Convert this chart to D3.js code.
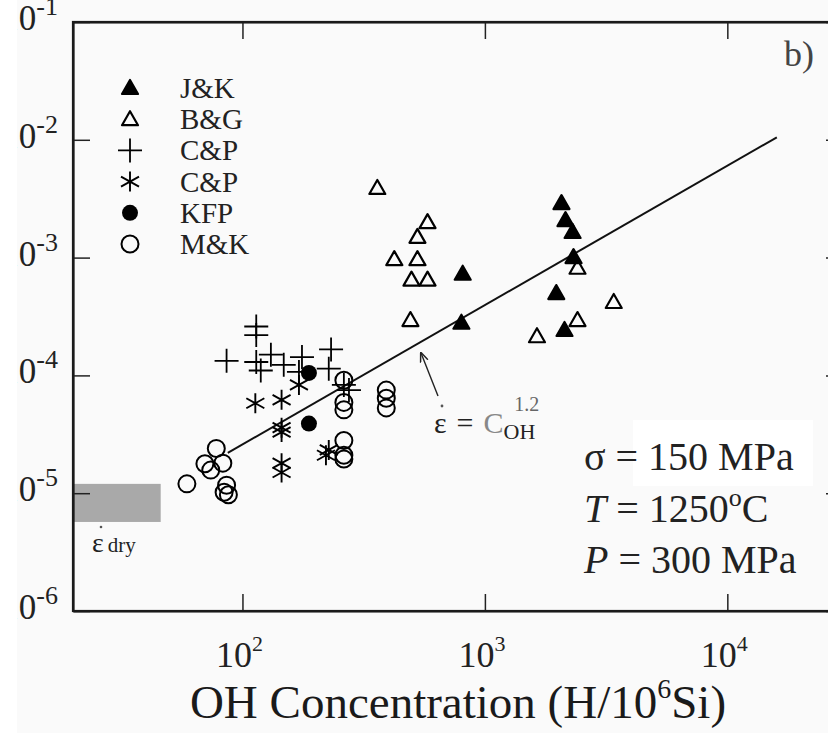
<!DOCTYPE html>
<html>
<head>
<meta charset="utf-8">
<title>Strain rate vs OH concentration</title>
<script src="https://d3js.org/d3.v7.min.js"></script>
<style>
  body { margin: 0; background: #fafafa; }
  svg { font-family: "Liberation Serif", "DejaVu Serif", serif; }
</style>
</head>
<body>
<svg width="828" height="733"></svg>
<script>
// values: x = OH (H/10^6 Si), y = strain rate
const jk = [[2070, 2.9e-3], [2150, 2.08e-3], [2300, 1.65e-3], [2320, 1.01e-3], [1970, 5.0e-4], [2130, 2.43e-4], [810, 7.3e-4], [800, 2.8e-4]];
const bg = [[360, 3.9e-3], [580, 2.0e-3], [527, 1.5e-3], [423, 9.7e-4], [527, 9.7e-4], [498, 6.5e-4], [580, 6.5e-4], [493, 2.95e-4], [2410, 8.2e-4], [3400, 4.2e-4], [2410, 2.95e-4], [1640, 2.15e-4]];
const cpPlus = [[114, 2.6e-4], [114, 2.2e-4], [86, 1.33e-4], [114, 1.3e-4], [119, 1.1e-4], [131, 1.5e-4], [148, 1.23e-4], [176, 1.43e-4], [232, 1.66e-4], [227, 1.14e-4], [171, 1.07e-4], [275, 7.5e-5], [262, 8.3e-5]];
const cpStar = [[113, 5.8e-5], [145, 6.2e-5], [145, 3.6e-5], [145, 3.3e-5], [145, 1.8e-5], [145, 1.5e-5], [227, 2.33e-5], [221, 2.1e-5], [171, 8.3e-5]];
const kfp = [[188, 1.05e-4], [188, 3.9e-5]];
const mk = [[78, 2.4e-5], [70, 1.78e-5], [83, 1.8e-5], [59, 1.2e-5], [74, 1.57e-5], [86, 1.17e-5], [84, 1.02e-5], [87.5, 9.7e-6],
            [262, 9.1e-5], [262, 5.9e-5], [262, 5.1e-5], [392, 7.5e-5], [392, 6.4e-5], [392, 5.3e-5], [262, 2.8e-5], [262, 2.1e-5], [262, 1.95e-5]];
const fitLine = [[87, 2.2e-5], [16000, 1.05e-2]];
const dryX = [20, 46];
const dryY = [5.7e-6, 1.2e-5];
const xTicks = [100, 1000, 10000];
const yTicks = [1e-1, 1e-2, 1e-3, 1e-4, 1e-5, 1e-6];
const legendNames = ["J&K", "B&G", "C&P", "C&P", "KFP", "M&K"];

const plotLeft = 73, plotTop = 22, plotRight = 843, plotBottom = 611;

const svg = d3.select('svg');

const x = d3.scaleLog().domain([20, 30000]).range([plotLeft, plotRight]);
const y = d3.scaleLog().domain([1e-6, 1e-1]).range([plotBottom, plotTop]);

// dry strain rate band
svg.append('rect')
  .attr('x', x(dryX[0])).attr('y', y(dryY[1]))
  .attr('width', x(dryX[1]) - x(dryX[0]))
  .attr('height', y(dryY[0]) - y(dryY[1]))
  .attr('fill', '#a9a9a9');

// faint white patch behind the stress label (as in the scan)
svg.append('rect')
  .attr('x', 633).attr('y', 420).attr('width', 180).attr('height', 66)
  .attr('fill', '#ffffff');

// axes: ticks inward on all four sides
const tickLen = 17;
svg.append('g')
  .attr('transform', `translate(0,${plotBottom})`)
  .call(d3.axisBottom(x).tickValues(xTicks).tickSizeInner(-tickLen).tickSizeOuter(0).tickFormat(''));
svg.append('g')
  .attr('transform', `translate(0,${plotTop})`)
  .call(d3.axisTop(x).tickValues(xTicks).tickSizeInner(-tickLen).tickSizeOuter(0).tickFormat(''));
svg.append('g')
  .attr('transform', `translate(${plotLeft},0)`)
  .call(d3.axisLeft(y).tickValues(yTicks).tickSizeInner(-tickLen).tickSizeOuter(0).tickFormat(''));
svg.append('g')
  .attr('transform', `translate(${plotRight},0)`)
  .call(d3.axisRight(y).tickValues(yTicks).tickSizeInner(-tickLen).tickSizeOuter(0).tickFormat(''));
svg.selectAll('.domain').attr('stroke', '#1a1a1a').attr('stroke-width', 2.2);
svg.selectAll('.tick line').attr('stroke', '#222').attr('stroke-width', 1.5);

// frame
svg.append('rect')
  .attr('x', plotLeft).attr('y', plotTop).attr('width', plotRight - plotLeft).attr('height', plotBottom - plotTop)
  .attr('fill', 'none').attr('stroke', '#1a1a1a').attr('stroke-width', 2.2);

// tick labels
svg.selectAll('.xlab')
  .data(xTicks)
  .enter()
  .append('text')
  .attr('x', d => x(d) - 3)
  .attr('y', 667)
  .attr('text-anchor', 'middle')
  .attr('font-size', 36)
  .attr('fill', '#222')
  .each(function(d) {
    const t = d3.select(this);
    t.append('tspan').text('10');
    t.append('tspan').attr('font-size', 22).attr('dy', -16).text(Math.round(Math.log10(d)));
  });

svg.selectAll('.ylab')
  .data(yTicks)
  .enter()
  .append('text')
  .attr('x', 58)
  .attr('y', d => y(d) + 8)
  .attr('text-anchor', 'end')
  .attr('font-size', 35)
  .attr('fill', '#222')
  .each(function(d) {
    const t = d3.select(this);
    t.append('tspan').text('10');
    t.append('tspan').attr('font-size', 26).attr('dy', -15).text('-' + Math.round(-Math.log10(d)));
  });

// the scan is trimmed on the left: a white strip hides the leading digit
svg.append('rect')
  .attr('x', 0).attr('y', 0).attr('width', 17).attr('height', 733)
  .attr('fill', '#ffffff');

// axis title
const title = svg.append('text')
  .attr('x', 458).attr('y', 718)
  .attr('text-anchor', 'middle')
  .attr('font-size', 47)
  .attr('fill', '#1a1a1a');
title.append('tspan').text('OH Concentration (H/10');
title.append('tspan').attr('font-size', 28).attr('dy', -20).text('6');
title.append('tspan').attr('dy', 20).text('Si)');

// fit line
svg.append('path')
  .datum(fitLine)
  .attr('d', d3.line().x(d => x(d[0])).y(d => y(d[1])))
  .attr('fill', 'none')
  .attr('stroke', '#111')
  .attr('stroke-width', 2);

// marker shapes
function marker(sel, type) {
  if (type === 'triFill' || type === 'triOpen') {
    sel.append('path')
      .attr('d', 'M0,-8L8,6L-8,6Z')
      .attr('fill', type === 'triFill' ? '#000' : 'none')
      .attr('stroke', '#000')
      .attr('stroke-width', 2.2)
      .attr('stroke-linejoin', 'round');
  } else if (type === 'plus') {
    sel.append('path')
      .attr('d', 'M-12,0H12M0,-12V12')
      .attr('stroke', '#000').attr('stroke-width', 1.8);
  } else if (type === 'star') {
    sel.append('path')
      .attr('d', 'M0,-10V10M-9,-5L9,5M-9,5L9,-5')
      .attr('stroke', '#000').attr('stroke-width', 1.9);
  } else if (type === 'dot') {
    sel.append('circle').attr('r', 8).attr('fill', '#000');
  } else {
    sel.append('circle').attr('r', 8.5)
      .attr('fill', 'none').attr('stroke', '#000').attr('stroke-width', 2);
  }
}

const series = [
  { data: jk, type: 'triFill' },
  { data: bg, type: 'triOpen' },
  { data: cpPlus, type: 'plus' },
  { data: cpStar, type: 'star' },
  { data: kfp, type: 'dot' },
  { data: mk, type: 'ring' }
];

series.forEach(function(s) {
  svg.append('g').selectAll('g')
    .data(s.data)
    .enter()
    .append('g')
    .attr('transform', d => `translate(${x(d[0])},${y(d[1])})`)
    .each(function() { marker(d3.select(this), s.type); });
});

// legend
const legend = svg.append('g');
legendNames.forEach(function(name, i) {
  const row = legend.append('g').attr('transform', `translate(130,${88 + i * 31.2})`);
  marker(row, series[i].type);
  row.append('text')
    .attr('x', 50).attr('y', 10)
    .attr('font-size', 29)
    .attr('fill', '#222')
    .text(name);
});

// panel letter
svg.append('text')
  .attr('x', 784).attr('y', 66)
  .attr('font-size', 36).attr('fill', '#444')
  .text('b)');

// fit annotation with arrow
svg.append('defs').append('marker')
  .attr('id', 'head').attr('viewBox', '0 0 10 10')
  .attr('refX', 9).attr('refY', 5)
  .attr('markerWidth', 7).attr('markerHeight', 7)
  .attr('orient', 'auto')
  .append('path').attr('d', 'M0,1L10,5L0,9').attr('fill', 'none').attr('stroke', '#222').attr('stroke-width', 1.5);
svg.append('line')
  .attr('x1', 438).attr('y1', 396).attr('x2', 421).attr('y2', 353)
  .attr('stroke', '#222').attr('stroke-width', 1.4)
  .attr('marker-end', 'url(#head)');

const eq = svg.append('text').attr('x', 434).attr('y', 433).attr('font-size', 30).attr('fill', '#222');
eq.append('tspan').text('ε');
eq.append('tspan').attr('dx', 10).text('=');
eq.append('tspan').attr('dx', 10).attr('fill', '#888').text('C');
eq.append('tspan').attr('font-size', 22).attr('dy', 6).text('OH');
eq.append('tspan').attr('font-size', 20).attr('dx', -21).attr('dy', -28).attr('fill', '#666').text('1.2');
svg.append('circle').attr('cx', 442).attr('cy', 406).attr('r', 1.4).attr('fill', '#555');

// dry strain label
const dry = svg.append('text').attr('x', 92).attr('y', 552).attr('font-size', 28).attr('fill', '#222');
dry.append('tspan').text('ε');
dry.append('tspan').attr('font-size', 21).attr('dx', 4).text('dry');
svg.append('circle').attr('cx', 101).attr('cy', 527).attr('r', 1.3).attr('fill', '#555');

// experimental conditions
const cond = svg.append('g').attr('font-size', 40).attr('fill', '#222');
cond.append('text').attr('x', 584).attr('y', 470).text('σ = 150 MPa');
const t2 = cond.append('text').attr('x', 584).attr('y', 522);
t2.append('tspan').attr('font-style', 'italic').text('T');
t2.append('tspan').text(' = 1250');
t2.append('tspan').attr('font-size', 26).attr('dy', -16).text('o');
t2.append('tspan').attr('dy', 16).text('C');
const t3 = cond.append('text').attr('x', 584).attr('y', 573);
t3.append('tspan').attr('font-style', 'italic').text('P');
t3.append('tspan').text(' = 300 MPa');
</script>
</body>
</html>
